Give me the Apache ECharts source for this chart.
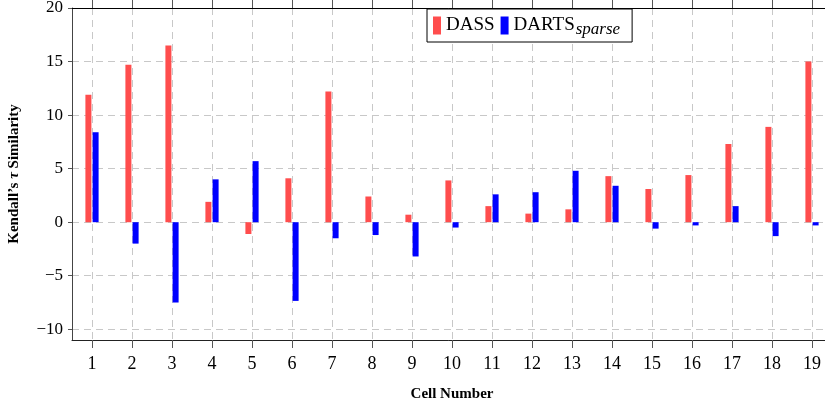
<!DOCTYPE html>
<html>
<head>
<meta charset="utf-8">
<script src="https://cdn.jsdelivr.net/npm/echarts@6/dist/echarts.min.js"></script>
<style>
html,body{margin:0;padding:0;background:#fff;}
#c{width:825px;height:404px;}
</style>
</head>
<body>
<div id="c"></div>
<script>
var categories = ['1','2','3','4','5','6','7','8','9','10','11','12','13','14','15','16','17','18','19'];
var dassValues = [11.9, 14.7, 16.5, 1.9, -1.1, 4.1, 12.2, 2.4, 0.7, 3.9, 1.5, 0.8, 1.2, 4.3, 3.1, 4.4, 7.3, 8.9, 15.0];
var dartsValues = [8.4, -2.0, -7.5, 4.0, 5.7, -7.35, -1.5, -1.2, -3.2, -0.5, 2.6, 2.8, 4.8, 3.4, -0.6, -0.3, 1.5, -1.3, -0.3];
var yMin = -11, yMax = 20;

// helper grid-line axis: half-steps so odd indices fall on category centres
var halfSteps = [];
for (var i = 0; i <= categories.length * 2; i++) halfSteps.push(String(i / 2));

var serif = '"Liberation Serif", "DejaVu Serif", serif';
var chart = echarts.init(document.getElementById('c'), null, {renderer: 'canvas'});
var gridDash = {color: '#c8c8c8', width: 1, type: [7, 5]};

chart.setOption({
  animation: false,
  backgroundColor: '#fff',
  grid: {left: 72, top: 8, bottom: 64, width: 760, containLabel: false, outerBoundsMode: 'none'},
  legend: {
    left: 427, top: 9,
    orient: 'horizontal',
    icon: 'rect',
    itemWidth: 8, itemHeight: 18, itemGap: 6,
    padding: [4, 12, 4, 6],
    borderColor: '#000', borderWidth: 1, backgroundColor: '#fff',
    data: ['DASS', 'DARTS'],
    formatter: function (name) {
      return name === 'DARTS' ? '{a|DARTS}{s|sparse}' : '{a|' + name + '}';
    },
    textStyle: {
      fontFamily: serif, fontSize: 19, color: '#000',
      rich: {
        a: {fontFamily: serif, fontSize: 19, color: '#000', lineHeight: 24},
        s: {fontFamily: serif, fontSize: 17, fontStyle: 'italic', color: '#000', lineHeight: 17, padding: [8, 0, 0, 1]}
      }
    }
  },
  xAxis: [{
    type: 'category',
    position: 'bottom',
    data: categories,
    boundaryGap: true,
    name: 'Cell Number',
    nameLocation: 'middle',
    nameGap: 47,
    nameTextStyle: {fontFamily: serif, fontSize: 15, fontWeight: 'bold', color: '#000'},
    axisLine: {show: true, onZero: false, lineStyle: {color: '#222', width: 1}},
    axisTick: {show: true, alignWithLabel: true, inside: false, length: 8, lineStyle: {color: '#555'}},
    axisLabel: {fontFamily: serif, fontSize: 18, color: '#000', margin: 15},
    splitLine: {show: false}
  }, {
    type: 'category',
    position: 'top',
    data: halfSteps,
    boundaryGap: false,
    axisLine: {show: true, onZero: false, lineStyle: {color: '#000', width: 1}},
    axisTick: {show: true, inside: false, length: 8, interval: function (idx) { return idx % 2 === 1; }, lineStyle: {color: '#555'}},
    axisLabel: {show: false},
    splitLine: {show: true, interval: function (idx) { return idx % 2 === 1; }, lineStyle: gridDash}
  }],
  yAxis: [{
    type: 'value',
    min: yMin, max: yMax,
    splitNumber: 6,
    name: "{b|Kendall\u2019s }{t|\u03C4}{b| Similarity}",
    nameLocation: 'middle',
    nameGap: 50,
    nameRotate: 90,
    nameTextStyle: {
      fontFamily: serif, fontSize: 15, fontWeight: 'bold', color: '#000',
      rich: {
        b: {fontFamily: serif, fontSize: 15, fontWeight: 'bold', color: '#000'},
        t: {fontFamily: serif, fontSize: 15, fontStyle: 'italic', color: '#000'}
      }
    },
    axisLine: {show: true, onZero: false, lineStyle: {color: '#444', width: 1}},
    axisTick: {show: true, inside: false, length: 4, lineStyle: {color: '#555'}},
    axisLabel: {
      fontFamily: serif, fontSize: 17, color: '#000', margin: 9,
      showMinLabel: false,
      formatter: function (v) { return v < 0 ? '\u2212' + Math.abs(v) : String(v); }
    },
    splitLine: {show: true, lineStyle: gridDash}
  }],
  series: [{
    name: 'DASS',
    type: 'bar',
    xAxisIndex: 0,
    data: dassValues,
    barWidth: 6,
    barGap: '20%',
    itemStyle: {color: '#ff4d4d'}
  }, {
    name: 'DARTS',
    type: 'bar',
    xAxisIndex: 0,
    data: dartsValues,
    barWidth: 6,
    barGap: '20%',
    itemStyle: {color: '#0000ff'}
  }]
});
</script>
</body>
</html>
